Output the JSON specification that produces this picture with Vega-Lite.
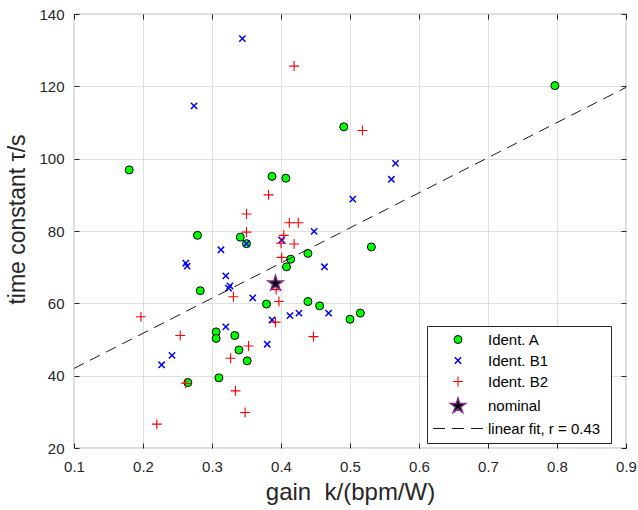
{
  "$schema": "https://vega.github.io/schema/vega-lite/v6.json",
  "width": 552,
  "height": 434,
  "autosize": "none",
  "padding": {"left": 74, "top": 14, "right": 12, "bottom": 62},
  "background": "white",
  "config": {
    "font": "Liberation Sans",
    "view": {"stroke": "#262626", "strokeWidth": 0.8},
    "axis": {
      "labelFont": "Liberation Sans",
      "titleFont": "Liberation Sans",
      "labelColor": "#262626",
      "titleColor": "#262626",
      "titleFontWeight": "normal",
      "domainColor": "#262626",
      "tickColor": "#262626",
      "gridColor": "#e0e0e0",
      "labelFlush": false,
      "labelOverlap": false
    }
  },
  "datasets": {
    "pts": [
      {"k": 0.180, "tau": 96.9, "series": "Ident. A"},
      {"k": 0.797, "tau": 120.2, "series": "Ident. A"},
      {"k": 0.491, "tau": 108.8, "series": "Ident. A"},
      {"k": 0.387, "tau": 95.1, "series": "Ident. A"},
      {"k": 0.407, "tau": 94.6, "series": "Ident. A"},
      {"k": 0.341, "tau": 78.3, "series": "Ident. A"},
      {"k": 0.350, "tau": 76.5, "series": "Ident. A"},
      {"k": 0.439, "tau": 73.8, "series": "Ident. A"},
      {"k": 0.414, "tau": 72.2, "series": "Ident. A"},
      {"k": 0.408, "tau": 70.1, "series": "Ident. A"},
      {"k": 0.279, "tau": 78.8, "series": "Ident. A"},
      {"k": 0.283, "tau": 63.5, "series": "Ident. A"},
      {"k": 0.379, "tau": 59.8, "series": "Ident. A"},
      {"k": 0.439, "tau": 60.5, "series": "Ident. A"},
      {"k": 0.456, "tau": 59.3, "series": "Ident. A"},
      {"k": 0.500, "tau": 55.6, "series": "Ident. A"},
      {"k": 0.515, "tau": 57.3, "series": "Ident. A"},
      {"k": 0.531, "tau": 75.6, "series": "Ident. A"},
      {"k": 0.306, "tau": 52.1, "series": "Ident. A"},
      {"k": 0.306, "tau": 50.3, "series": "Ident. A"},
      {"k": 0.333, "tau": 51.1, "series": "Ident. A"},
      {"k": 0.339, "tau": 47.1, "series": "Ident. A"},
      {"k": 0.351, "tau": 44.1, "series": "Ident. A"},
      {"k": 0.265, "tau": 38.1, "series": "Ident. A"},
      {"k": 0.310, "tau": 39.4, "series": "Ident. A"},
      {"k": 0.344, "tau": 133.2, "series": "Ident. B1"},
      {"k": 0.274, "tau": 114.6, "series": "Ident. B1"},
      {"k": 0.566, "tau": 98.7, "series": "Ident. B1"},
      {"k": 0.560, "tau": 94.3, "series": "Ident. B1"},
      {"k": 0.504, "tau": 88.8, "series": "Ident. B1"},
      {"k": 0.448, "tau": 79.9, "series": "Ident. B1"},
      {"k": 0.350, "tau": 76.5, "series": "Ident. B1"},
      {"k": 0.401, "tau": 77.5, "series": "Ident. B1"},
      {"k": 0.313, "tau": 74.8, "series": "Ident. B1"},
      {"k": 0.463, "tau": 70.1, "series": "Ident. B1"},
      {"k": 0.320, "tau": 67.6, "series": "Ident. B1"},
      {"k": 0.326, "tau": 64.8, "series": "Ident. B1"},
      {"k": 0.324, "tau": 64.2, "series": "Ident. B1"},
      {"k": 0.359, "tau": 61.5, "series": "Ident. B1"},
      {"k": 0.262, "tau": 71.1, "series": "Ident. B1"},
      {"k": 0.264, "tau": 70.3, "series": "Ident. B1"},
      {"k": 0.387, "tau": 55.4, "series": "Ident. B1"},
      {"k": 0.413, "tau": 56.6, "series": "Ident. B1"},
      {"k": 0.426, "tau": 57.3, "series": "Ident. B1"},
      {"k": 0.469, "tau": 57.3, "series": "Ident. B1"},
      {"k": 0.242, "tau": 45.6, "series": "Ident. B1"},
      {"k": 0.227, "tau": 43.0, "series": "Ident. B1"},
      {"k": 0.320, "tau": 53.5, "series": "Ident. B1"},
      {"k": 0.380, "tau": 48.7, "series": "Ident. B1"},
      {"k": 0.419, "tau": 125.6, "series": "Ident. B2"},
      {"k": 0.518, "tau": 107.8, "series": "Ident. B2"},
      {"k": 0.382, "tau": 90.0, "series": "Ident. B2"},
      {"k": 0.350, "tau": 84.7, "series": "Ident. B2"},
      {"k": 0.412, "tau": 82.3, "series": "Ident. B2"},
      {"k": 0.425, "tau": 82.3, "series": "Ident. B2"},
      {"k": 0.350, "tau": 79.7, "series": "Ident. B2"},
      {"k": 0.404, "tau": 78.8, "series": "Ident. B2"},
      {"k": 0.400, "tau": 76.6, "series": "Ident. B2"},
      {"k": 0.419, "tau": 76.4, "series": "Ident. B2"},
      {"k": 0.401, "tau": 72.7, "series": "Ident. B2"},
      {"k": 0.331, "tau": 61.8, "series": "Ident. B2"},
      {"k": 0.393, "tau": 63.8, "series": "Ident. B2"},
      {"k": 0.397, "tau": 60.5, "series": "Ident. B2"},
      {"k": 0.392, "tau": 54.8, "series": "Ident. B2"},
      {"k": 0.197, "tau": 56.3, "series": "Ident. B2"},
      {"k": 0.254, "tau": 51.1, "series": "Ident. B2"},
      {"k": 0.353, "tau": 48.2, "series": "Ident. B2"},
      {"k": 0.327, "tau": 44.8, "series": "Ident. B2"},
      {"k": 0.447, "tau": 50.8, "series": "Ident. B2"},
      {"k": 0.262, "tau": 37.9, "series": "Ident. B2"},
      {"k": 0.334, "tau": 35.8, "series": "Ident. B2"},
      {"k": 0.348, "tau": 29.8, "series": "Ident. B2"},
      {"k": 0.220, "tau": 26.6, "series": "Ident. B2"},
      {"k": 0.392, "tau": 65.5, "series": "nominal"}
    ],
    "fit": [
      {"k": 0.1, "tau": 42.0},
      {"k": 0.9, "tau": 119.7}
    ]
  },
  "layer": [
    {
      "data": {"name": "pts"},
      "mark": {"type": "point", "filled": false, "opacity": 1},
      "encoding": {
        "x": {
          "field": "k", "type": "quantitative",
          "scale": {"domain": [0.1, 0.9], "nice": false, "zero": false},
          "axis": {
            "orient": "bottom",
            "values": [0.1, 0.2, 0.3, 0.4, 0.5, 0.6, 0.7, 0.8, 0.9],
            "format": ".1f",
            "grid": true,
            "domain": false,
            "tickSize": -5,
            "labelPadding": 16,
            "labelFontSize": 15,
            "title": "gain\u00a0\u00a0k/(bpm/W)",
            "titleFontSize": 24,
            "titlePadding": 6
          }
        },
        "y": {
          "field": "tau", "type": "quantitative",
          "scale": {"domain": [20, 140], "nice": false, "zero": false},
          "axis": {
            "orient": "left",
            "values": [20, 40, 60, 80, 100, 120, 140],
            "format": "d",
            "grid": true,
            "domain": false,
            "tickSize": -5,
            "labelPadding": 15,
            "labelFontSize": 15,
            "title": "time constant τ/s",
            "titleFontSize": 23,
            "titlePadding": 9,
            "titleY": 205
          }
        },
        "shape": {
          "field": "series", "type": "nominal",
          "scale": {
            "domain": ["Ident. A", "Ident. B1", "Ident. B2", "nominal", "linear fit,  r = 0.43"],
            "range": [
              "circle",
              "M-1,-1L1,1M-1,1L1,-1",
              "M-1,0L1,0M0,-1L0,1",
              "M0,-1L0.2245,-0.309L0.951,-0.309L0.363,0.118L0.588,0.809L0,0.382L-0.588,0.809L-0.363,0.118L-0.951,-0.309L-0.2245,-0.309Z",
              "M-5,0L-2.6,0M-1.2,0L1.2,0M2.6,0L5,0"
            ]
          },
          "legend": {
            "title": null,
            "orient": "none",
            "legendX": 353,
            "legendY": 312,
            "strokeColor": "#262626",
            "fillColor": "white",
            "padding": 6,
            "labelFont": "Liberation Sans",
            "labelFontSize": 15,
            "labelColor": "#000000",
            "symbolOffset": 16,
            "labelOffset": 21,
            "labelLimit": 300,
            "rowPadding": 5
          }
        },
        "fill": {
          "field": "series", "type": "nominal",
          "scale": {
            "domain": ["Ident. A", "Ident. B1", "Ident. B2", "nominal", "linear fit,  r = 0.43"],
            "range": ["#00ff00", "transparent", "transparent", "#000000", "transparent"]
          }
        },
        "stroke": {
          "field": "series", "type": "nominal",
          "scale": {
            "domain": ["Ident. A", "Ident. B1", "Ident. B2", "nominal", "linear fit,  r = 0.43"],
            "range": ["#000000", "#0000ff", "#ff0000", "#7e2f8e", "#000000"]
          }
        },
        "strokeWidth": {
          "field": "series", "type": "nominal",
          "scale": {
            "type": "ordinal",
            "domain": ["Ident. A", "Ident. B1", "Ident. B2", "nominal", "linear fit,  r = 0.43"],
            "range": [1, 1.5, 1.1, 1.5, 0.9]
          }
        },
        "size": {
          "field": "series", "type": "nominal",
          "scale": {
            "type": "ordinal",
            "domain": ["Ident. A", "Ident. B1", "Ident. B2", "nominal", "linear fit,  r = 0.43"],
            "range": [64, 40, 100, 250, 100]
          }
        }
      }
    },
    {
      "data": {"name": "fit"},
      "mark": {"type": "line", "color": "#000000", "strokeWidth": 0.9, "strokeDash": [11, 7]},
      "encoding": {
        "x": {
          "field": "k", "type": "quantitative",
          "axis": {
            "orient": "top",
            "values": [0.1, 0.2, 0.3, 0.4, 0.5, 0.6, 0.7, 0.8, 0.9],
            "labels": false, "grid": false, "domain": false,
            "tickSize": -5, "title": null
          }
        },
        "y": {
          "field": "tau", "type": "quantitative",
          "axis": {
            "orient": "right",
            "values": [20, 40, 60, 80, 100, 120, 140],
            "labels": false, "grid": false, "domain": false,
            "tickSize": -5, "title": null
          }
        }
      }
    }
  ],
  "resolve": {"axis": {"x": "independent", "y": "independent"}}
}
